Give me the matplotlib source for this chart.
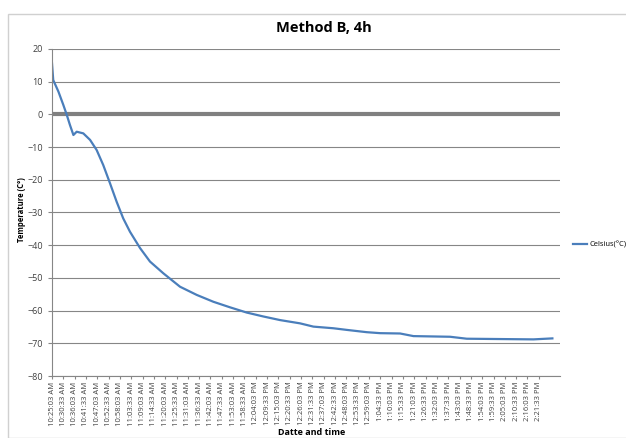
import numpy as np
import matplotlib
matplotlib.use('Agg')
import matplotlib.pyplot as plt
from matplotlib.patches import Rectangle

# minutes since 10:25:03 AM, temperature in C
minutes = [0, 0.6, 3.1, 5.5, 7.1, 8.7, 10.4, 12.0, 15.2, 18.5, 21.7, 24.9, 28.2,
           31.4, 34.6, 37.9, 42.8, 47.6, 54.1, 62.2, 70.3, 78.4, 86.5, 94.6, 102.7,
           110.8, 120.5, 127.0, 136.7, 143.2, 152.9, 159.4, 169.1, 175.6, 193.4,
           201.5, 217.7, 233.9, 243.1]
celsius = [15.6, 10.5, 7.0, 2.9, 0.0, -3.2, -6.3, -5.3, -5.8, -7.8, -10.9, -15.5, -21.1,
           -26.7, -31.8, -35.9, -40.9, -45.0, -48.6, -52.7, -55.2, -57.3, -59.0, -60.6, -61.8,
           -62.9, -63.9, -64.9, -65.4, -65.9, -66.6, -66.9, -67.0, -67.8, -68.0,
           -68.6, -68.7, -68.8, -68.5]

tick_labels = ['10:25:03 AM', '10:30:33 AM', '10:36:03 AM', '10:41:33 AM', '10:47:03 AM',
               '10:52:33 AM', '10:58:03 AM', '11:03:33 AM', '11:09:03 AM', '11:14:33 AM',
               '11:20:03 AM', '11:25:33 AM', '11:31:03 AM', '11:36:33 AM', '11:42:03 AM',
               '11:47:33 AM', '11:53:03 AM', '11:58:33 AM', '12:04:03 PM', '12:09:33 PM',
               '12:15:03 PM', '12:20:33 PM', '12:26:03 PM', '12:31:33 PM', '12:37:03 PM',
               '12:42:33 PM', '12:48:03 PM', '12:53:33 PM', '12:59:03 PM', '1:04:33 PM',
               '1:10:03 PM', '1:15:33 PM', '1:21:03 PM', '1:26:33 PM', '1:32:03 PM',
               '1:37:33 PM', '1:43:03 PM', '1:48:33 PM', '1:54:03 PM', '1:59:33 PM',
               '2:05:03 PM', '2:10:33 PM', '2:16:03 PM', '2:21:33 PM']
tick_step = 5.5  # minutes between labels

plt.rcParams['font.family'] = ['Open Sans', 'DejaVu Sans']

W, H = 626, 438
fig = plt.figure(figsize=(W/100, H/100), dpi=100)
# chart area frame
fig.patches.append(Rectangle((8/W, 0), 1, 1 - 14/H, transform=fig.transFigure,
                             fill=False, edgecolor='#d0d0d0', lw=1))

ax = fig.add_axes([52/W, 1 - 376/H, (560 - 52)/W, (376 - 49)/H])

ax.plot(minutes, celsius, color='#4a7ebb', lw=1.6, label='Celsius(°C)')
ax.axhline(0, color='#808080', lw=3, zorder=1)

ax.set_ylim(-80, 20)
ax.set_yticks(np.arange(-80, 21, 10))
ax.set_xlim(0, 246.8)
ax.set_xticks([i*tick_step for i in range(len(tick_labels))])
ax.set_xticklabels(tick_labels, rotation=90, fontsize=5.5, color='#404040')
ax.tick_params(axis='y', labelsize=6.5, labelcolor='#404040', length=3, color='#868686')
ax.tick_params(axis='x', length=2, color='#868686', pad=2)
ax.grid(axis='y', color='#868686', lw=0.8)
ax.set_axisbelow(True)
for s in ['top', 'right']:
    ax.spines[s].set_visible(False)
for s in ['left', 'bottom']:
    ax.spines[s].set_color('#868686')

fig.text(324/W, 1 - 28/H, 'Method B, 4h', ha='center', va='center',
         fontsize=10.5, fontweight='bold')
fig.text(22/W, 1 - 210/H, 'Temperature (C°)', rotation=90, ha='center', va='center',
         fontsize=5.5, fontweight='bold')
fig.text(312/W, 1 - 437/H, 'Datte and time', ha='center', va='bottom',
         fontsize=6.5, fontweight='bold')

ax.legend(loc='center left', bbox_to_anchor=(573/W, 1 - 245/H),
          bbox_transform=fig.transFigure, frameon=False, fontsize=5.5,
          handlelength=1.8, handletextpad=0.3, borderaxespad=0, borderpad=0)

fig.savefig('out.png', dpi=100)
